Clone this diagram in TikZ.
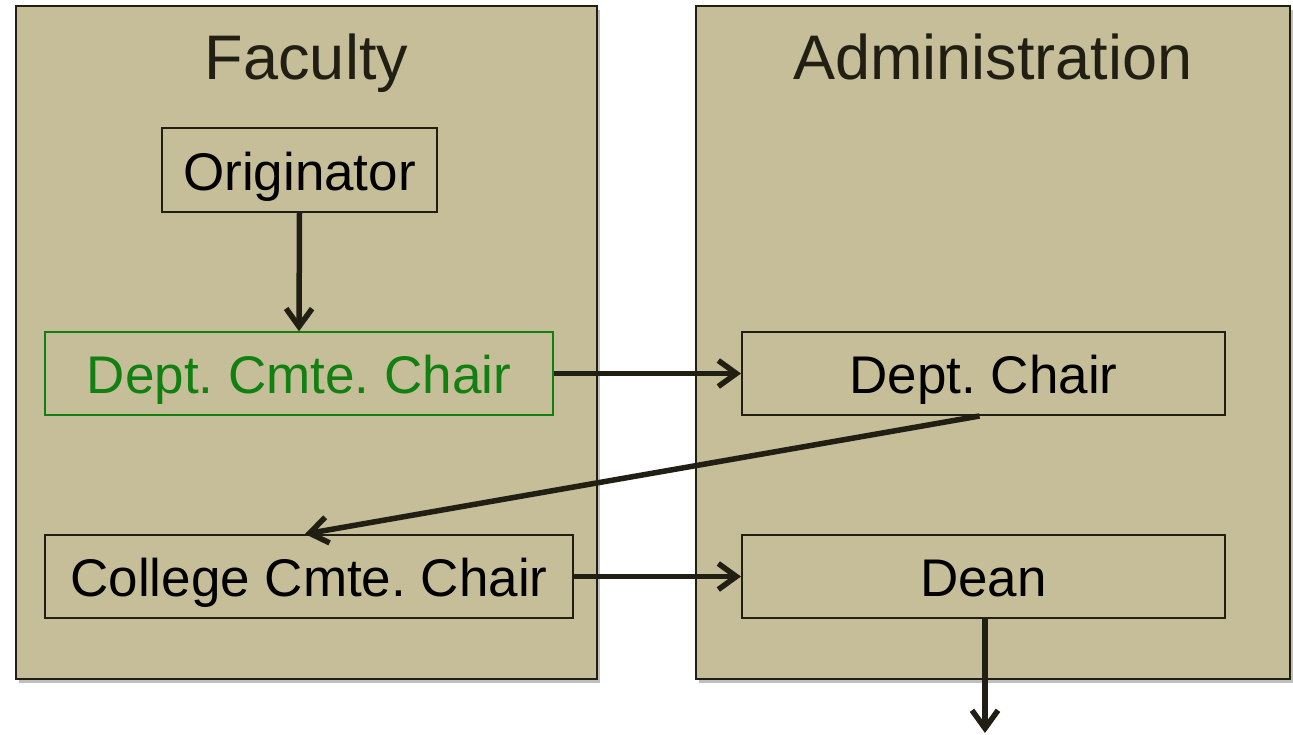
\documentclass[tikz,border=0pt]{standalone}
\usepackage{fontspec}
\setmainfont{Liberation Sans}
\usetikzlibrary{arrows.meta,shadows}
\definecolor{panelfill}{RGB}{197,190,152}
\definecolor{edge}{RGB}{33,30,20}
\definecolor{greentext}{RGB}{17,128,17}
\frenchspacing
\tikzset{
  panel/.style={draw=edge, line width=2pt, fill=panelfill,
    drop shadow={shadow xshift=3pt, shadow yshift=-4pt, opacity=0.25, fill=black}},
  title/.style={anchor=base, text=edge, font=\fontsize{63}{70}\selectfont},
  box/.style={draw=edge, line width=2pt, inner sep=0pt, text=black,
    font=\fontsize{53}{60}\selectfont, minimum height=83pt,
    text height=42pt, text depth=2pt},
  greenbox/.style={box, draw=greentext, line width=1.5pt, text=greentext},
  flow/.style={draw=edge, line width=5.5pt,
    -{Straight Barb[length=18pt, width=26pt, line width=5.5pt]}},
}
\begin{document}
\begin{tikzpicture}[x=1pt, y=-1pt]
\useasboundingbox (0,0) rectangle (1293,734);
\path[panel] (16,6) rectangle (597,679);
\path[panel] (696,6) rectangle (1290,679);
\node[title] (tf) at (306.5,79) {Faculty};
\node[title] (ta) at (993,79) {Administration};
\node[box, minimum width=275pt, minimum height=84pt] (orig) at (299.5,170) {Originator};
\node[greenbox, minimum width=508pt] (dcc) at (299,373.5) {Dept. Cmte. Chair};
\node[box, minimum width=483pt] (dc) at (983.5,373.5) {Dept. Chair};
\node[box, minimum width=528pt] (ccc) at (309,576.5) {College Cmte. Chair};
\node[box, minimum width=483pt] (dean) at (983.5,576.5) {Dean};
\coordinate (out) at (985,733);
\draw[flow] (orig.south) -- (dcc.north);
\draw[flow] (dcc.east) -- (dc.west);
\draw[flow] ([xshift=-4pt]dc.south) -- ([xshift=-4pt]ccc.north);
\draw[flow] (ccc.east) -- (dean.west);
\draw[flow] ([xshift=1.5pt]dean.south) -- (out);
\end{tikzpicture}
\end{document}
